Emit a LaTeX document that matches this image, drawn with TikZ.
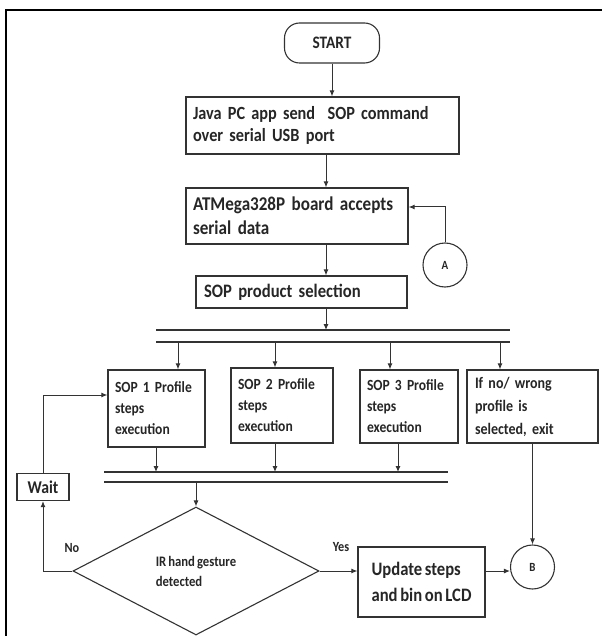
\documentclass[tikz,border=0pt]{standalone}
\usepackage{fontspec}
\setmainfont{Carlito}[FakeStretch=0.875, WordSpace=0.7]
\usetikzlibrary{arrows.meta,shapes.geometric}
\definecolor{lc}{HTML}{333333}
\begin{document}
\begin{tikzpicture}[x=1pt,y=-1pt,
  every node/.style={font=\bfseries, text=black!85},
  box/.style={draw=lc, line width=1.2pt, align=left, inner xsep=8pt, inner ysep=0pt},
  circ/.style={draw=lc, line width=1.1pt, circle, minimum size=44pt, inner sep=0pt, font=\bfseries\fontsize{12.5}{14}\selectfont},
  arr/.style={draw=lc, line width=1pt, -{Latex[length=6pt,width=5pt]}},
  ln/.style={draw=lc, line width=1pt},
  bar/.style={draw=lc, line width=1.3pt}]
\useasboundingbox (0,0) rectangle (602,636);
\fill[white] (0,0) rectangle (602,636);
% outer frame
\coordinate (fbl) at (6,636);
\coordinate (ftl) at (6,10);
\coordinate (ftr) at (602,10);
\draw[line width=2pt] (fbl) -- (ftl) -- (ftr);

% helper coordinates
\coordinate (x326) at (326,0);
\coordinate (x178) at (178,0);
\coordinate (x275) at (275,0);
\coordinate (x390) at (390,0);
\coordinate (x500) at (500,0);
\coordinate (x156) at (156,0);
\coordinate (x398) at (398,0);
\coordinate (x196) at (196,0);
\coordinate (y207) at (0,207);
\coordinate (y395) at (0,395);
\coordinate (y571) at (0,571);

% nodes
\node[draw=lc, line width=1.1pt, rounded corners=15pt, minimum width=95pt, minimum height=40pt, font=\bfseries\fontsize{17.5}{18}\selectfont] (start) at (332,43) {START};
\node[box, minimum height=57pt, text width=259pt, inner xsep=7pt, font=\bfseries\fontsize{18.6}{22}\selectfont] (java) at (322.5,125.5) {Java PC app send\ \ SOP command\\over serial USB port};
\node[box, minimum height=56pt, text width=208pt, inner xsep=7pt, font=\bfseries\fontsize{19.5}{24}\selectfont] (atm) at (297,216) {ATMega328P board accepts\\serial data};
\node[box, minimum height=32pt, text width=195pt, font=\bfseries\fontsize{19}{22}\selectfont] (sel) at (301.5,292) {SOP product selection};
\node[circ] (A) at (445,265) {A};

% bars
\coordinate (b1l) at (156,330); \coordinate (b1r) at (510,330);
\coordinate (b2l) at (156,342); \coordinate (b2r) at (510,342);
\coordinate (b3l) at (104,472); \coordinate (b3r) at (448,472);
\coordinate (b4l) at (104,482); \coordinate (b4r) at (448,482);
\draw[bar] (b1l) -- (b1r);
\draw[bar] (b2l) -- (b2r);
\draw[bar] (b3l) -- (b3r);
\draw[bar] (b4l) -- (b4r);

\node[box, minimum height=77pt, text width=83pt, inner xsep=7pt, font=\bfseries\fontsize{15.5}{21}\selectfont] (sop1) at (156.5,408.5) {SOP 1 Profile\\steps\\execution};
\node[box, minimum height=75pt, text width=88pt, inner xsep=7pt, font=\bfseries\fontsize{15.5}{21}\selectfont] (sop2) at (282,405.5) {SOP 2 Profile\\steps\\execution};
\node[box, minimum height=73pt, text width=84pt, inner xsep=7pt, font=\bfseries\fontsize{15.5}{21}\selectfont] (sop3) at (409,406.5) {SOP 3 Profile\\steps\\execution};
\node[box, minimum height=73pt, text width=115pt, font=\bfseries\fontsize{16}{23}\selectfont] (exit) at (532.5,406.5) {If no/ wrong\\profile is\\selected, exit};

\node[box, minimum width=52pt, minimum height=27pt, inner xsep=0pt, align=center, font=\bfseries\fontsize{18}{18}\selectfont] (wait) at (43,487) {Wait};

\node[draw=lc, line width=1.1pt, diamond, minimum width=246pt, minimum height=128pt, inner sep=0pt, align=left, font=\bfseries\fontsize{14.5}{20}\selectfont] (dia) at (196,571) {IR hand gesture\\detected};

\node[box, minimum width=127pt, minimum height=70pt, font=\bfseries\fontsize{19}{26}\selectfont] (upd) at (421.5,582) {Update steps\\and bin on LCD};
\node[circ] (B) at (532.5,567) {B};

\node[font=\bfseries\fontsize{14}{15}\selectfont] (no) at (72,548) {No};
\node[font=\bfseries\fontsize{14}{15}\selectfont] (yes) at (341,547) {Yes};

% connectors
\draw[arr] (start) -- (java.north -| start);
\draw[arr] (java.south -| x326) -- (atm.north -| x326);
\draw[arr] (A.north) |- (atm.east |- y207);
\draw[arr] (atm.south -| x326) -- (sel.north -| x326);
\draw[arr] (sel.south -| x326) -- (b1l -| x326);
\draw[arr] (b2l -| x178) -- (sop1.north -| x178);
\draw[arr] (b2l -| x275) -- (sop2.north -| x275);
\draw[arr] (b2l -| x390) -- (sop3.north -| x390);
\draw[arr] (b2l -| x500) -- (exit.north -| x500);
\draw[arr] (sop1.south -| x156) -- (b3l -| x156);
\draw[arr] (sop2.south -| x275) -- (b3l -| x275);
\draw[arr] (sop3.south -| x398) -- (b3l -| x398);
\draw[arr] (b4l -| x196) -- (dia.north);
\draw[arr] (dia.west) -| (wait.south);
\draw[arr] (wait.north) |- (sop1.west |- y395);
\draw[arr] (dia.east) -- (upd.west |- dia.east);
\draw[arr] (upd.east |- y571) -- (B.west |- y571);
\draw[arr] (exit.south) -- (B.north);
\end{tikzpicture}
\end{document}
